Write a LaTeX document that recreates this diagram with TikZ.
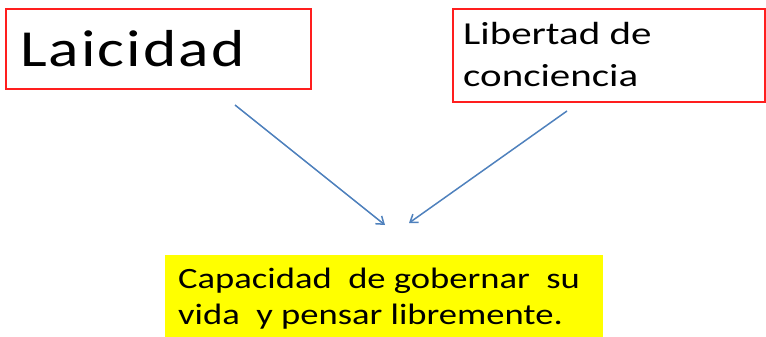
\documentclass[tikz,border=0pt]{standalone}
\usepackage{fontspec}
\usetikzlibrary{arrows.meta}
\newfontfamily\calwide[FakeStretch=1.28]{Carlito}
\newfontfamily\calbig[FakeStretch=1.22,LetterSpace=4]{Carlito}
\newfontfamily\calyel[FakeStretch=1.24]{Carlito}
\definecolor{boxred}{RGB}{255,30,30}
\definecolor{arrowblue}{RGB}{79,129,189}
\definecolor{hiyellow}{RGB}{255,255,0}
\tikzset{
  redbox/.style={draw=boxred, line width=1.3pt, fill=white, inner sep=0pt},
  txt/.style={anchor=base west, inner sep=0pt, text=black},
  link/.style={draw=arrowblue, line width=1.5pt, -{Straight Barb[length=7pt,width=10pt]}}
}
\begin{document}
\begin{tikzpicture}[x=1pt,y=-1pt]
\useasboundingbox (0,0) rectangle (766,337);
% boxes
\node[redbox, minimum width=305pt, minimum height=80pt] (lai) at (158.5,49) {};
\node[redbox, minimum width=312pt, minimum height=93pt] (lib) at (609,55.5) {};
\node[fill=hiyellow, inner sep=0pt, minimum width=438pt, minimum height=82pt] (cap) at (384,296) {};
% texts
\node[txt, font=\calbig\fontsize{52}{60}\selectfont] (laiT) at (20,66.7) {Laicidad};
\node[txt, font=\calwide\fontsize{32}{40}\selectfont] (libT1) at (463,44.3) {Libertad de};
\node[txt, font=\calwide\fontsize{32}{40}\selectfont] (libT2) at (463,86.7) {conciencia};
\node[txt, font=\calyel\fontsize{29.5}{36}\selectfont] (capT1) at (178,288.3) {Capacidad\ \ de gobernar\ \ su};
\node[txt, font=\calyel\fontsize{29.5}{36}\selectfont] (capT2) at (178,324.5) {vida\ \ y pensar libremente.};
% connectors
\coordinate (a1) at (235,105);
\coordinate (a1e) at (385,225);
\coordinate (a2) at (567,111);
\coordinate (a2e) at (409,223);
\draw[link] (a1) -- (a1e);
\draw[link] (a2) -- (a2e);
\end{tikzpicture}
\end{document}
